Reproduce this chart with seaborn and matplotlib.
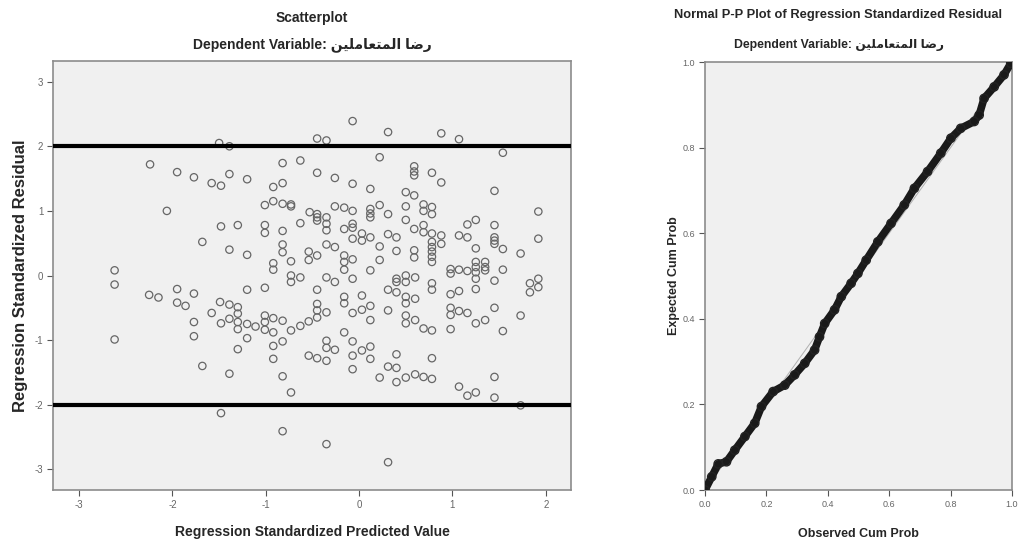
import matplotlib
matplotlib.use("Agg")
import matplotlib.pyplot as plt
import seaborn as sns
import pandas as pd

# scatter: standardized predicted value vs standardized residual
pred = [-1.50, -1.39, -0.45, -0.35, -2.24, -1.95, -1.77, -1.58, -1.48, -1.39,
        -1.20, -0.82, -0.63, -0.45, -0.92, -0.82, -1.01, -0.92, -0.82, -0.73,
        -0.73, -0.53, -0.45, -0.45, -0.35, -0.35, -2.06, -1.48, -1.30, -1.01,
        -1.01, -0.82, -0.63, -1.68, -1.39, -1.20, -0.82, -0.82, -0.92, -0.92,
        -0.73, -0.54, -0.54, -0.45, -0.35, -2.62, -0.73, -0.63, -0.35,
        -2.62, -2.62, -2.25, -2.15, -1.95, -1.95, -1.86, -1.77, -1.77, -1.77,
        -1.68, -1.58, -1.49, -1.39, -1.48, -1.39, -1.30, -1.30, -1.30, -1.30,
        -1.30, -1.20, -1.20, -1.20, -1.39, -1.11, -1.01, -1.01, -1.01, -1.01,
        -0.92, -0.92, -0.92, -0.92, -0.82, -0.82, -0.82, -0.73, -0.73, -0.63,
        -0.54, -0.45, -0.45, -0.45, -0.35, -0.45, -0.73, -0.54, -0.45, -0.35,
        -0.35, -0.35, -1.48, -0.82, -0.35,
        -0.07, 0.31, 0.88, 1.07, 1.54, 0.22, -0.26, -0.07, 0.12, 0.59,
        0.59, 0.59, 0.78, 0.88, 1.45, 0.50, 0.59, 0.22, 0.12, 0.12,
        0.12, -0.07, -0.16, -0.26, 0.31, 0.50, 0.50, 0.69, 0.69, 0.78,
        0.78, -0.45, -0.35, 1.92, 1.25, 1.16, 1.45, 1.45, 1.45, 1.45,
        1.54, 1.07, 1.16, 1.25, 1.92, 1.73, -0.16, -0.07, -0.07, -0.07,
        0.03, 0.03, 0.12, 0.31, 0.40, 0.59, 0.69, 0.69, 0.78, 0.78,
        0.78, 0.78, 0.78, 0.78, 0.88, 0.88, -0.26, 0.22, 0.22, 0.40,
        0.59, 0.59, -0.16, -0.16, -0.16, -0.07, 0.12, 0.98, 1.07, 1.16,
        1.25, 1.25, 1.25, 1.35, 1.35, 1.54,
        -0.26, -0.07, 0.40, 0.40, 0.40, 0.50, 0.50, 0.60, 0.31, 0.78,
        0.78, 0.98, 0.98, 1.07, 1.25, 1.25, 1.35, 1.45, 1.83, 1.83,
        1.92, 1.92, -0.16, -0.16, 0.03, 0.03, 0.12, -0.07, 0.12, 0.31,
        0.50, 0.50, 0.60, 0.50, 0.50, 0.60, 0.69, 0.78, 0.98, 0.98,
        0.98, 1.07, 1.16, 1.25, 1.35, 1.45, 1.54, 1.73, -0.16, -0.07,
        -0.07, -0.07, 0.03, 0.12, 0.12, 0.22, 0.31, 0.40, 0.40, 0.40,
        0.50, 0.60, 0.69, 0.78, 0.78, 1.07, 1.16, 1.25, 1.45, 1.45,
        1.73, -0.26, 0.31]
resid = [2.05, 2.00, 2.12, 2.09, 1.72, 1.60, 1.52, 1.43, 1.39, 1.57,
         1.49, 1.74, 1.78, 1.59, 1.37, 1.43, 1.09, 1.15, 1.11, 1.07,
         1.10, 0.98, 0.95, 0.85, 0.90, 0.70, 1.00, 0.76, 0.78, 0.78,
         0.66, 0.69, 0.81, 0.52, 0.40, 0.32, 0.48, 0.36, 0.19, 0.09,
         0.22, 0.37, 0.24, 0.31, 0.48, 0.08, 0.00, -0.03, -0.03,
         -0.14, -0.99, -0.30, -0.34, -0.21, -0.42, -0.47, -0.28, -0.72, -0.94,
         -1.40, -0.58, -0.41, -0.45, -0.74, -0.67, -0.49, -0.59, -0.72, -0.83,
         -1.14, -0.22, -0.75, -0.97, -1.52, -0.79, -0.19, -0.62, -0.72, -0.84,
         -0.66, -0.88, -1.09, -1.29, -0.70, -1.02, -1.56, -1.81, -0.85, -0.78,
         -0.71, -0.65, -0.44, -0.54, -0.57, -0.22, -0.10, -1.24, -1.28, -1.01,
         -1.12, -1.32, -2.13, -2.41, -2.61,
         2.39, 2.22, 2.20, 2.11, 1.90, 1.83, 1.51, 1.42, 1.34, 1.69,
         1.61, 1.55, 1.59, 1.44, 1.31, 1.29, 1.24, 1.09, 1.03, 0.96,
         0.90, 1.00, 1.05, 1.07, 0.95, 1.07, 0.86, 1.10, 1.00, 1.06,
         0.95, 0.90, 0.80, 0.99, 0.86, 0.79, 0.78, 0.59, 0.54, 0.49,
         0.41, 0.62, 0.59, 0.42, 0.57, 0.34, 0.72, 0.80, 0.74, 0.57,
         0.65, 0.54, 0.59, 0.64, 0.59, 0.72, 0.78, 0.67, 0.65, 0.52,
         0.44, 0.37, 0.29, 0.21, 0.62, 0.49, 0.44, 0.45, 0.24, 0.38,
         0.39, 0.28, 0.31, 0.21, 0.09, 0.25, 0.08, 0.10, 0.09, 0.07,
         0.21, 0.13, 0.05, 0.21, 0.08, 0.09,
         -0.10, -0.05, -0.05, -0.10, -0.26, 0.00, -0.10, -0.03, -0.22, -0.12,
         -0.22, 0.03, -0.29, -0.24, -0.05, -0.21, 0.13, -0.08, -0.12, -0.26,
         -0.05, -0.18, -0.33, -0.43, -0.31, -0.53, -0.47, -0.58, -0.69, -0.54,
         -0.33, -0.43, -0.36, -0.62, -0.74, -0.69, -0.82, -0.85, -0.50, -0.61,
         -0.83, -0.55, -0.58, -0.74, -0.69, -0.50, -0.86, -0.62, -0.88, -1.02,
         -1.24, -1.45, -1.16, -1.10, -1.29, -1.58, -1.41, -1.22, -1.43, -1.65,
         -1.58, -1.53, -1.57, -1.60, -1.28, -1.72, -1.86, -1.81, -1.57, -1.89,
         -2.01, -1.15, -2.89]

# normal P-P plot of the residuals
obs_cum = [0.000, 0.022, 0.043, 0.070, 0.097, 0.130, 0.162, 0.184, 0.222, 0.260,
           0.292, 0.325, 0.357, 0.373, 0.390, 0.422, 0.444, 0.476, 0.498, 0.525,
           0.563, 0.606, 0.649, 0.682, 0.725, 0.768, 0.801, 0.833, 0.877, 0.893,
           0.909, 0.942, 0.974, 0.996]
exp_cum = [0.000, 0.031, 0.061, 0.066, 0.093, 0.125, 0.156, 0.195, 0.230, 0.245,
           0.269, 0.296, 0.327, 0.358, 0.389, 0.421, 0.452, 0.483, 0.506, 0.537,
           0.580, 0.623, 0.666, 0.705, 0.744, 0.787, 0.822, 0.845, 0.861, 0.876,
           0.915, 0.942, 0.970, 0.997]

x_ticks = [-3, -2, -1, 0, 1, 2]
y_ticks = [-3, -2, -1, 0, 1, 2, 3]
pp_ticks = [0.0, 0.2, 0.4, 0.6, 0.8, 1.0]

dep_var = ("Dependent Variable: "
           "\ufee6\ufef4\ufee0\ufee3\ufe8e\ufecc\ufe98\ufee4\ufedf\ufe8d"
           " \ufe8e\ufebf\ufead")

sns.set_style("white")
plt.rcParams['font.family'] = ['Liberation Sans Narrow', 'Liberation Sans', 'DejaVu Sans']
plt.rcParams['axes.unicode_minus'] = False

scatter_df = pd.DataFrame({"pred": pred, "resid": resid})
pp_df = pd.DataFrame({"obs": obs_cum, "exp": exp_cum})

fig = plt.figure(figsize=(10.21, 5.47), dpi=100)
W, H = 1021, 547
ax1 = fig.add_axes([53 / W, 1 - 490 / H, 518 / W, 429 / H])
ax2 = fig.add_axes([705 / W, 1 - 490 / H, 307 / W, 428 / H])

bg = "#f0f0f0"
for ax in (ax1, ax2):
    ax.set_facecolor(bg)
    for s in ax.spines.values():
        s.set_color("#8c8c8c")
        s.set_linewidth(1.2)
    ax.tick_params(axis="both", direction="out", length=4, width=0.8,
                   color="#555555", labelsize=7, labelcolor="#666666",
                   left=True, bottom=True, pad=3)

# left: residual scatter
sns.scatterplot(data=scatter_df, x="pred", y="resid", ax=ax1, marker="o",
                s=28, facecolor="none", edgecolor="#666666", linewidth=0.9,
                zorder=3)
ax1.axhline(2, color="black", lw=3, zorder=4)
ax1.axhline(-2, color="black", lw=3, zorder=4)
ax1.set_xlim(-3.28, 2.27)
ax1.set_ylim(-3.32, 3.32)
ax1.set_xticks(x_ticks)
ax1.set_yticks(y_ticks)
ax1.set_xlabel("Regression Standardized Predicted Value", fontsize=10,
               fontweight="bold", labelpad=11)
ax1.set_ylabel("Regression Standardized Residual", fontsize=12,
               fontweight="bold", labelpad=5)

# right: P-P plot
ax2.plot([0, 1], [0, 1], color="#b0b0b0", lw=0.7, zorder=2)
sns.lineplot(data=pp_df, x="obs", y="exp", ax=ax2, color="#1a1a1a", lw=5.5,
             sort=False, zorder=3)
sns.scatterplot(data=pp_df, x="obs", y="exp", ax=ax2, marker="o", s=36,
                facecolor="none", edgecolor="#222222", linewidth=1.0, zorder=4)
ax2.set_xlim(0, 1)
ax2.set_ylim(0, 1)
ax2.set_xticks(pp_ticks)
ax2.set_yticks(pp_ticks)
ax2.set_xticklabels([f"{t:.1f}" for t in pp_ticks])
ax2.set_yticklabels([f"{t:.1f}" for t in pp_ticks])
ax2.tick_params(labelsize=6.5)
ax2.set_xlabel("Observed Cum Prob", fontsize=9, fontweight="bold", labelpad=14)
ax2.set_ylabel("Expected Cum Prob", fontsize=9, fontweight="bold", labelpad=2)

# titles
fig.text(312 / W, 1 - 18 / H, "Scatterplot", ha="center", va="center",
         fontsize=10, fontweight="bold")
fig.text(312 / W, 1 - 45 / H, dep_var, ha="center", va="center",
         fontsize=10, fontweight="bold")
fig.text(838 / W, 1 - 15 / H,
         "Normal P-P Plot of Regression Standardized Residual",
         ha="center", va="center", fontsize=9.3, fontweight="bold")
fig.text(839 / W, 1 - 45 / H, dep_var, ha="center", va="center",
         fontsize=8.8, fontweight="bold")

fig.savefig("out.png", dpi=100)
